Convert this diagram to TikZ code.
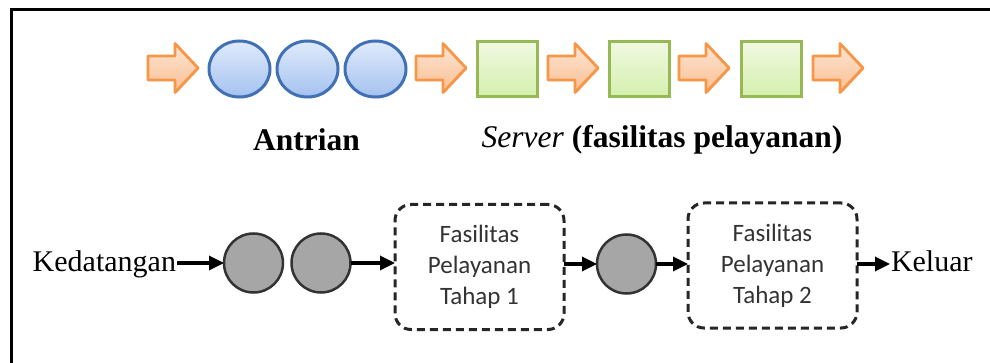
\documentclass[tikz,border=0pt]{standalone}
\usepackage{fontspec}
\setmainfont{Liberation Serif}
\newfontfamily\boxfont{Carlito}
\usepackage{tikz}
\usetikzlibrary{positioning,calc
  ,shapes.geometric
  ,arrows.meta,shadows}
\definecolor{myorange}{RGB}{247,150,70}
\definecolor{myorangei}{RGB}{253,230,212}
\definecolor{myorangeii}{RGB}{250,190,146}
\definecolor{mybluedraw}{RGB}{65,113,180}
\definecolor{mybluei}{RGB}{224,234,251}
\definecolor{myblueii}{RGB}{164,194,240}
\definecolor{mygreendraw}{RGB}{150,185,85}
\definecolor{mygreeni}{RGB}{240,249,226}
\definecolor{mygreenii}{RGB}{212,239,172}
\definecolor{mygray}{RGB}{166,166,166}
\tikzset{
  queuepic/.style={
    x=1pt,y=-1pt
    ,inner sep=0pt
    ,outer sep=0pt
  }
  ,softshadow/.style={drop shadow={opacity=.25,shadow xshift=1pt,shadow yshift=-1.5pt}}
  ,flowarrowstyle/.style={draw=myorange,line width=2.8pt,line join=round
    ,top color=myorangei,bottom color=myorangeii,softshadow}
  ,waiting/.style={ellipse,draw=mybluedraw,line width=3pt
    ,top color=mybluei,bottom color=myblueii
    ,minimum width=61pt,minimum height=56pt,softshadow}
  ,server/.style={rectangle,draw=mygreendraw,line width=3pt
    ,top color=mygreeni,bottom color=mygreenii
    ,minimum width=60pt,minimum height=55pt,softshadow}
  ,caption/.style={font=\fontsize{31.5}{36}\selectfont\bfseries}
  ,plain/.style={font=\fontsize{30}{34}\selectfont,inner sep=1pt}
  ,customer/.style={circle,draw=black!80,line width=2.5pt,fill=mygray,minimum size=59pt}
  ,facility/.style={rectangle,rounded corners=16pt,draw=black!85,line width=3pt
    ,dash pattern=on 8pt off 5pt
    ,minimum width=169pt,minimum height=125pt
    ,align=center,text=black!80
    ,font=\boxfont\fontsize{25}{31}\selectfont}
  ,flow/.style={-{Triangle[length=15pt,width=14pt]},line width=3.3pt}
}
\newcommand\flowarrow[2]{
  \coordinate (#1) at (#2,68);
  \path[flowarrowstyle] (#1) ++(0,-12) -- ++(27,0) -- ++(0,-12.5) -- ++(23,24.5)
    -- ++(-23,24.5) -- ++(0,-12.5) -- ++(-27,0) -- cycle;
}

\begin{document}
\begin{tikzpicture}[queuepic]
    \useasboundingbox (0,0) rectangle (990,363);
    % frame
    \draw[line width=3.5pt] (11.5,363) -- (11.5,9.5) -- (990,9.5);
    % top row
    \foreach \x [count=\i] in {148,416,548,679,813}{
      \flowarrow{arr\i}{\x}
    }
    \node[waiting] (q1) at (239.5,69) {};
    \node[waiting,right=7pt of q1] (q2) {};
    \node[waiting,right=7pt of q2] (q3) {};
    \node[server] (s1) at (507,69.5) {};
    \node[server] (s2) at (639,69.5) {};
    \node[server] (s3) at (771,69.5) {};
    \node[caption] (antrian) at (306.5,140) {Antrian};
    \node[caption] (servernm) at (662,140) {\textit{\mdseries Server} (fasilitas pelayanan)};
    % bottom row
    \node[plain,anchor=base east] (datang) at (177,272) {Kedatangan};
    \node[customer] (c1) at (253.5,263) {};
    \node[customer] (c2) at (321,263) {};
    \node[facility] (tahap1) at (479.5,267) {Fasilitas\\Pelayanan\\Tahap 1};
    \node[customer] (c3) at (626.5,264) {};
    \node[facility] (tahap2) at (772.5,265.5) {Fasilitas\\Pelayanan\\Tahap 2};
    \node[plain,anchor=base west] (keluar) at (890,272) {Keluar};
    \draw[flow] (datang.east |- c1) -- (c1);
    \draw[flow] (c2) -- (c2 -| tahap1.west);
    \draw[flow] (c3 -| tahap1.east) -- (c3);
    \draw[flow] (c3) -- (c3 -| tahap2.west);
    \draw[flow] (tahap2.east |- c3) -- (keluar.west |- c3);
\end{tikzpicture}
\end{document}
